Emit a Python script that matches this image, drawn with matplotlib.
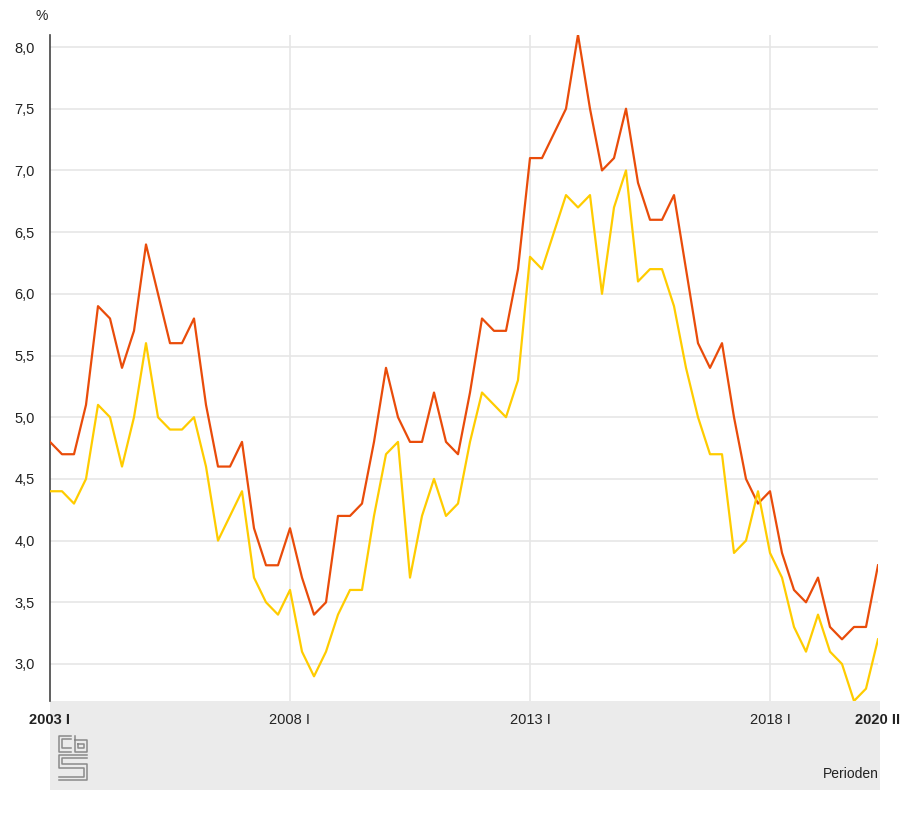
import matplotlib
matplotlib.use('Agg')
import matplotlib.pyplot as plt
from matplotlib.patches import Rectangle
import numpy as np

plt.rcParams['font.family'] = ['Liberation Sans', 'DejaVu Sans']

# kwartalen 2003 I t/m 2020 II
periods = [f'{y} {q}' for y in range(2003, 2021) for q in ['I', 'II', 'III', 'IV']][:70]

orange = [4.8, 4.7, 4.7, 5.1, 5.9, 5.8, 5.4, 5.7, 6.4, 6.0,
          5.6, 5.6, 5.8, 5.1, 4.6, 4.6, 4.8, 4.1, 3.8, 3.8,
          4.1, 3.7, 3.4, 3.5, 4.2, 4.2, 4.3, 4.8, 5.4, 5.0,
          4.8, 4.8, 5.2, 4.8, 4.7, 5.2, 5.8, 5.7, 5.7, 6.2,
          7.1, 7.1, 7.3, 7.5, 8.1, 7.5, 7.0, 7.1, 7.5, 6.9,
          6.6, 6.6, 6.8, 6.2, 5.6, 5.4, 5.6, 5.0, 4.5, 4.3,
          4.4, 3.9, 3.6, 3.5, 3.7, 3.3, 3.2, 3.3, 3.3, 3.8]

yellow = [4.4, 4.4, 4.3, 4.5, 5.1, 5.0, 4.6, 5.0, 5.6, 5.0,
          4.9, 4.9, 5.0, 4.6, 4.0, 4.2, 4.4, 3.7, 3.5, 3.4,
          3.6, 3.1, 2.9, 3.1, 3.4, 3.6, 3.6, 4.2, 4.7, 4.8,
          3.7, 4.2, 4.5, 4.2, 4.3, 4.8, 5.2, 5.1, 5.0, 5.3,
          6.3, 6.2, 6.5, 6.8, 6.7, 6.8, 6.0, 6.7, 7.0, 6.1,
          6.2, 6.2, 5.9, 5.4, 5.0, 4.7, 4.7, 3.9, 4.0, 4.4,
          3.9, 3.7, 3.3, 3.1, 3.4, 3.1, 3.0, 2.7, 2.8, 3.2]

tick_labels = ['2003 I', '2008 I', '2013 I', '2018 I', '2020 II']
yticks = [3.0, 3.5, 4.0, 4.5, 5.0, 5.5, 6.0, 6.5, 7.0, 7.5, 8.0]

W, H = 904, 819
fig = plt.figure(figsize=(W / 100, H / 100), dpi=100)
# plot area in pixels
x0, x1, ytop, ybot = 50, 878, 34.7, 701
ax = fig.add_axes([x0 / W, 1 - ybot / H, (x1 - x0) / W, (ybot - ytop) / H])

# grijze band onder de grafiek
fig.add_artist(Rectangle((50 / W, 1 - 790 / H), (880 - 50) / W, (790 - 701) / H,
                         transform=fig.transFigure, facecolor='#ebebeb',
                         edgecolor='none', zorder=0))

x = np.arange(len(periods))
ax.plot(x, orange, color='#e94c0a', lw=1.6, zorder=3)
ax.plot(x, yellow, color='#ffcc00', lw=1.6, zorder=3)

ax.set_xlim(0, 69)
ax.set_ylim(2.7, 8.1)
ax.set_yticks(yticks)
ax.set_yticklabels([f'{v:.1f}'.replace('.', ',') for v in yticks])
for v in yticks:
    ax.axhline(v, color='#e6e6e6', lw=1.2, zorder=1)
ax.set_xticks([periods.index(p) for p in tick_labels])
ax.set_xticklabels(tick_labels)
for v in [20, 40, 60]:
    ax.axvline(v, color='#e6e6e6', lw=1.2, zorder=1)

ax.tick_params(axis='both', length=0, labelsize=10.5, colors='#222222')
ax.tick_params(axis='x', pad=9)
ax.tick_params(axis='y', pad=11)
for lab in ax.get_xticklabels():
    if lab.get_text() in ('2003 I', '2020 II'):
        lab.set_fontweight('bold')

for s in ['top', 'right', 'bottom']:
    ax.spines[s].set_visible(False)
ax.spines['left'].set_color('#444444')
ax.spines['left'].set_linewidth(1.2)
ax.patch.set_alpha(0)

fig.text(36 / W, 1 - 16 / H, '%', fontsize=10, color='#222222', va='center')
fig.text(879 / W, 1 - 774 / H, 'Perioden', fontsize=10, color='#222222',
         ha='right', va='center')

# cbs logo (ruwe benadering)
lg = fig.add_axes([57 / W, 1 - 782 / H, 32 / W, 48 / H])
lg.set_xlim(0, 10)
lg.set_ylim(0, 15)
lg.axis('off')
c = '#8a8a8a'
kw = dict(color=c, lw=1.1)
lg.plot([4.5, 0.5, 0.5, 4.5], [14.5, 14.5, 9.5, 9.5], **kw)
lg.plot([4.5, 1.5, 1.5, 4.5], [13.5, 13.5, 10.5, 10.5], **kw)
lg.plot([5.5, 5.5, 9.5, 9.5, 5.5], [14.5, 9.5, 9.5, 13.0, 13.0], **kw)
lg.plot([6.5, 8.5, 8.5, 6.5, 6.5], [12.0, 12.0, 10.5, 10.5, 12.0], **kw)
lg.plot([9.5, 0.5, 0.5, 8.5, 8.5, 0.5], [8.5, 8.5, 4.5, 4.5, 1.5, 1.5], **kw)
lg.plot([9.5, 1.5, 1.5, 9.5, 9.5, 0.5], [7.5, 7.5, 5.5, 5.5, 0.5, 0.5], **kw)

fig.savefig('out.png', dpi=100, facecolor='white')
